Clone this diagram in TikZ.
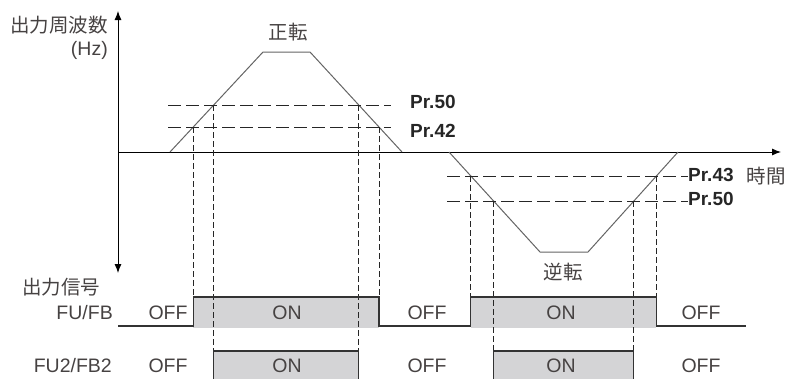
\documentclass[tikz,border=0pt]{standalone}
\usepackage{fontspec}
\setmainfont{Liberation Sans}
\newfontfamily\jpfont{Noto Sans CJK JP}
\usetikzlibrary{arrows.meta,calc,positioning}
\definecolor{ink}{RGB}{70,66,66}
\definecolor{onfill}{RGB}{212,212,214}
\definecolor{wave}{RGB}{100,100,100}

\begin{document}
\begin{tikzpicture}[x=1pt,y=-1pt,
    lbl/.style={font=\fontsize{19.5}{19.5}\selectfont,text=ink,inner sep=0pt},
    jlbl/.style={font=\fontsize{19.5}{19.5}\selectfont\jpfont,text=ink,inner sep=0pt},
    prm/.style={font=\fontsize{19}{19}\selectfont\bfseries,text=black!85,inner sep=0pt,anchor=west},
    lvl/.style={dash pattern=on 13pt off 5pt,line width=0.9pt,black!85},
    drop/.style={dash pattern=on 6pt off 3pt,line width=0.9pt,black!85},
    sig/.style={line width=1.1pt,black!80,line join=miter}]
  \useasboundingbox (0,0) rectangle (787,378);

  % axes
  \coordinate (o) at (118,152);
  \coordinate (ytop) at (118,11);
  \coordinate (ybot) at (118,273);
  \coordinate (tend) at (781,152);
  \draw[line width=0.9pt,-{Latex[length=9pt,width=7pt]}] (o) -- (ytop);
  \draw[line width=0.9pt,-{Latex[length=9pt,width=7pt]}] (o) -- (ybot);
  \draw[line width=0.9pt,-{Latex[length=9pt,width=7pt]}] (o) -- (tend);

  % forward / reverse speed
  \coordinate (f0) at (170,152); \coordinate (f1) at (263,52);
  \coordinate (f2) at (310,52);  \coordinate (f3) at (402,152);
  \coordinate (r0) at (449,152); \coordinate (r1) at (540,252);
  \coordinate (r2) at (588,252); \coordinate (r3) at (678,152);
  \draw[wave,line width=1pt] (f0) -- (f1) -- (f2) -- (f3);
  \draw[wave,line width=1pt] (r0) -- (r1) -- (r2) -- (r3);

  % crossing points
  \coordinate (a1) at ($(f0)!.25!(f1)$);
  \coordinate (a2) at ($(f0)!.47!(f1)$);
  \coordinate (a3) at ($(f2)!.53!(f3)$);
  \coordinate (a4) at ($(f2)!.75!(f3)$);
  \coordinate (b1) at ($(r0)!.24!(r1)$);
  \coordinate (b2) at ($(r0)!.49!(r1)$);
  \coordinate (b3) at ($(r2)!.51!(r3)$);
  \coordinate (b4) at ($(r2)!.76!(r3)$);

  % levels
  \node[prm] (p50a) at (410,102) {Pr.50};
  \node[prm] (p42) at (410,131) {Pr.42};
  \node[prm] (p43) at (688,175) {Pr.43};
  \node[prm] (p50b) at (688,199) {Pr.50};
  \draw[lvl] (168,105) -- (391,105);
  \draw[lvl] (168,127) -- (391,127);
  \draw[lvl] (447,176) -- (p43.west |- 0,176);
  \draw[lvl] (447,201) -- (p50b.west |- 0,201);

  % signal levels
  \coordinate (lo) at (0,326);
  \coordinate (hi) at (0,297);
  \coordinate (hi2) at (0,351);
  \coordinate (bot) at (0,379);

  \foreach \s/\e in {a1/a4,b1/b4} {\fill[onfill] (\s |- hi) rectangle (\e |- 0,328);}
  \foreach \s/\e in {a2/a3,b2/b3} {\fill[onfill] (\s |- hi2) rectangle (\e |- bot);}

  % drop lines
  \foreach \p in {a1,a4,b1,b4} {\draw[drop] (\p) -- (\p |- hi);}
  \foreach \p in {a2,a3,b2,b3} {\draw[drop] (\p) -- (\p |- hi2);}

  % FU/FB
  \draw[sig] (118,326) -- (a1 |- lo) -- (a1 |- hi) -- (a4 |- hi) -- (a4 |- lo)
    -- (b1 |- lo) -- (b1 |- hi) -- (b4 |- hi) -- (b4 |- lo) -- (746,326);
  % FU2/FB2
  \foreach \s/\e in {a2/a3,b2/b3} {\draw[sig] (\s |- bot) -- (\s |- hi2) -- (\e |- hi2) -- (\e |- bot);}

  % labels
  \node[jlbl,anchor=east] (fq) at (108,25) {出力周波数};
  \node[lbl,anchor=east] (hz) at (108,50) {(Hz)};
  \node[jlbl] (fwd) at (288,32) {正転};
  \node[jlbl] (rev) at (563,272) {逆転};
  \node[jlbl,anchor=east] (tm) at (786,176) {時間};
  \node[jlbl,anchor=west] (out) at (22,287) {出力信号};
  \node[lbl,anchor=east] (fu) at (113,313) {FU/FB};
  \node[lbl,anchor=east] (fu2) at (112,366) {FU2/FB2};
  \foreach \x/\t in {168/OFF,287/ON,427/OFF,561/ON,701/OFF} {
    \node[lbl] at (\x,313) {\t};
    \node[lbl] at (\x,366) {\t};
  }
\end{tikzpicture}
\end{document}
